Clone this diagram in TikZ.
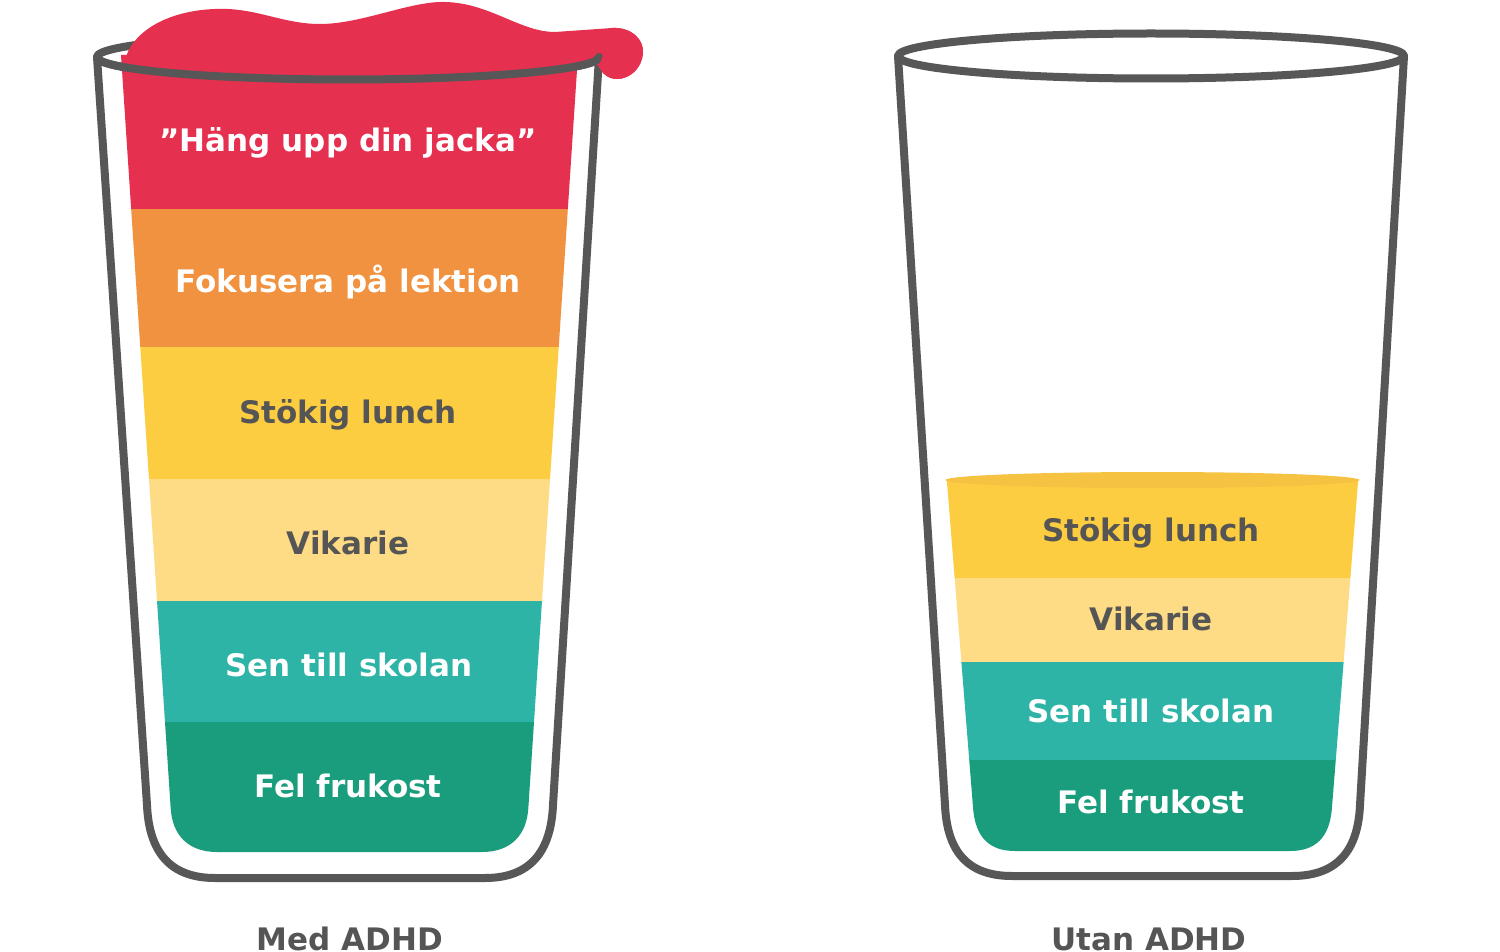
\documentclass[tikz,border=0pt]{standalone}
\usepackage{fontspec}
\newfontfamily\lblfont{DejaVu Sans}
\definecolor{cred}{HTML}{E6304F}
\definecolor{corange}{HTML}{F09240}
\definecolor{cyellow}{HTML}{FDCD41}
\definecolor{clight}{HTML}{FEDC86}
\definecolor{cteal}{HTML}{2DB4A7}
\definecolor{cgreen}{HTML}{1A9D7C}
\definecolor{csurf}{HTML}{F5C241}
\definecolor{cglass}{HTML}{575757}
\definecolor{ctext}{HTML}{555555}
\begin{document}
\begin{tikzpicture}[x=0.5pt,y=-0.5pt,
  glass/.style={draw=cglass, line width=4pt, line join=round, line cap=round},
  lbl/.style={font={\lblfont\bfseries\fontsize{15.5}{18}\selectfont}, anchor=base, inner sep=0pt},
  wlbl/.style={lbl, text=white},
  dlbl/.style={lbl, text=ctext}]
\useasboundingbox (0,0) rectangle (1500,952);
\fill[white] (0,0) rectangle (1500,952);

% ---------- left glass: liquid layers ----------
\begin{scope}
  \clip (121,55) -- (170.6,807) .. controls (172,836) and (189,852) .. (217,852)
        -- (482,852) .. controls (510,852) and (527,836) .. (528.4,807) -- (578,55) -- cycle;
  \fill[cred]    (100,40)  rectangle (600,209);
  \fill[corange] (100,209) rectangle (600,347);
  \fill[cyellow] (100,347) rectangle (600,479);
  \fill[clight]  (100,479) rectangle (600,601);
  \fill[cteal]   (100,601) rectangle (600,722);
  \fill[cgreen]  (100,722) rectangle (600,860);
\end{scope}
% outline
\draw[glass] (97,57) -- (147,805) .. controls (149,852) and (170,878) .. (215,878)
      -- (485,878) .. controls (530,878) and (551,852) .. (553,805) -- (599,57);
\draw[glass] (348,57) ellipse[x radius=251, y radius=22.5];
% overflowing blob
\fill[cred] (124,68) .. controls (125,38) and (160,11) .. (215,9)
   .. controls (255,7) and (282,24) .. (320,24)
   .. controls (362,24) and (410,1) .. (445,2)
   .. controls (490,3) and (520,32) .. (555,32) -- (612,28)
   .. controls (632,27) and (644,40) .. (643,53)
   .. controls (642,68) and (630,79) .. (617,79)
   .. controls (607,79) and (601,72) .. (598,65)
   -- (576,67) -- (574,90) -- (126,90) -- cycle;
% front rim over the blob
\draw[glass] (97,57) arc[start angle=180, end angle=0, x radius=251, y radius=22.5];
% lobe over the rim end
\fill[cred] (603,40) -- (612,28) .. controls (632,27) and (644,40) .. (643,53)
   .. controls (642,68) and (630,79) .. (617,79)
   .. controls (607,79) and (601,72) .. (599,66) -- (603,55) -- cycle;

% left labels
\node[wlbl] (l1) at (348,152) {”Häng upp din jacka”};
\node[wlbl] (l2) at (348,293) {Fokusera på lektion};
\node[dlbl] (l3) at (348,423) {Stökig lunch};
\node[dlbl] (l4) at (348,554) {Vikarie};
\node[wlbl] (l5) at (349,676) {Sen till skolan};
\node[wlbl] (l6) at (348,797) {Fel frukost};
\node[dlbl] (lt) at (350,950) {Med ADHD};

% ---------- right glass ----------
\begin{scope}
  \clip (946,470) -- (973,807) .. controls (975,838) and (990,851) .. (1015,851)
        -- (1290,851) .. controls (1315,851) and (1330,838) .. (1332,807) -- (1359,470) -- cycle;
  \fill[cyellow] (900,480) rectangle (1400,578);
  \fill[clight]  (900,578) rectangle (1400,662);
  \fill[cteal]   (900,662) rectangle (1400,760);
  \fill[cgreen]  (900,760) rectangle (1400,860);
\end{scope}
\fill[csurf] (1152.5,480) ellipse[x radius=207, y radius=8];
\draw[glass] (898,56) -- (945,805) .. controls (947,852) and (968,876) .. (1012,876)
      -- (1292,876) .. controls (1336,876) and (1358,852) .. (1360,805) -- (1404,56);
\draw[glass] (1151,56) ellipse[x radius=253, y radius=22.5];

% right labels
\node[dlbl] (r3) at (1151,541) {Stökig lunch};
\node[dlbl] (r4) at (1151,630) {Vikarie};
\node[wlbl] (r5) at (1151,722) {Sen till skolan};
\node[wlbl] (r6) at (1151,813) {Fel frukost};
\node[dlbl] (rt) at (1149,950) {Utan ADHD};
\end{tikzpicture}
\end{document}
